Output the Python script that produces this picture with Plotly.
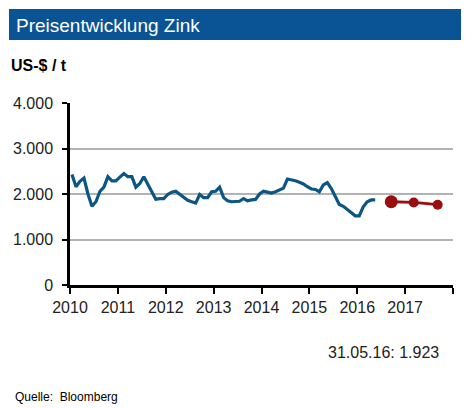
import plotly.graph_objects as go

# Monthly zinc price (US-$/t), Jan 2010 - May 2016
hist_values = [
    2430, 2160, 2280, 2350, 2000, 1730, 1830, 2060, 2150, 2380, 2290, 2290,
    2370, 2450, 2380, 2380, 2150, 2230, 2380, 2220, 2060, 1885, 1900, 1900,
    1990, 2040, 2060, 1990, 1920, 1860, 1830, 1800, 1990, 1920, 1920, 2050,
    2060, 2150, 1920, 1850, 1830, 1830, 1840, 1900, 1850, 1870, 1880, 2000,
    2060, 2040, 2020, 2050, 2090, 2130, 2330, 2315, 2290, 2260, 2220, 2160,
    2110, 2100, 2050, 2200, 2250, 2120, 1960, 1770, 1730, 1660, 1580, 1520,
    1520, 1720, 1830, 1870, 1870,
]
hist_start_year = 2010
hist_dates = [hist_start_year + (i + 0.5) / 12 for i in range(len(hist_values))]

# Forecast points
fc_dates = [2016.71, 2017.18, 2017.68]
fc_values = [1830, 1815, 1765]
fc_sizes = [13, 10, 10]

year_ticks = [2010, 2011, 2012, 2013, 2014, 2015, 2016, 2017, 2018]
year_labels = ["2010", "2011", "2012", "2013", "2014", "2015", "2016", "2017", ""]
y_ticks = [0, 1000, 2000, 3000, 4000]
y_labels = ["0", "1.000", "2.000", "3.000", "4.000"]

title_text = "Preisentwicklung Zink"
unit_text = "US-$ / t"
last_text = "31.05.16: 1.923"
source_text = "Quelle:  Bloomberg"

FONT = "Liberation Sans, Arial, sans-serif"

fig = go.Figure()
fig.add_trace(go.Scatter(
    x=hist_dates, y=hist_values, mode="lines",
    line=dict(color="#0b5684", width=3.2),
    hoverinfo="skip", showlegend=False,
))
fig.add_trace(go.Scatter(
    x=fc_dates, y=fc_values, mode="lines+markers",
    line=dict(color="#990f0f", width=2.8),
    marker=dict(color="#990f0f", size=fc_sizes, opacity=1, line=dict(width=0)),
    opacity=1,
    hoverinfo="skip", showlegend=False,
))

L, R, T, B = 70, 453, 103, 285
W, H = 473, 408
pw, ph = R - L, B - T


def px(x):
    return (x - L) / pw


def py(y):
    return (B - y) / ph


fig.update_layout(
    width=W, height=H,
    margin=dict(l=L, r=W - R, t=T, b=H - B, pad=0),
    paper_bgcolor="white", plot_bgcolor="white",
    font=dict(family=FONT, color="#222222", size=16),
    xaxis=dict(
        range=[2010, 2018], tickmode="array", tickvals=year_ticks, ticktext=year_labels,
        showgrid=False, zeroline=False,
        showline=True, linecolor="black", linewidth=2.5,
        ticks="outside", ticklen=6, tickwidth=2, tickcolor="black",
        tickfont=dict(size=16, color="#222222"),
    ),
    yaxis=dict(
        range=[0, 4000], tickmode="array", tickvals=y_ticks, ticktext=y_labels,
        showgrid=True, gridcolor="#b3b3b3", gridwidth=1.6, zeroline=False,
        showline=True, linecolor="black", linewidth=2.5,
        ticks="outside", ticklen=5, tickwidth=2, tickcolor="black",
        tickfont=dict(size=16, color="#222222"),
        ticklabelstandoff=6,
    ),
    shapes=[dict(
        type="rect", xref="paper", yref="paper",
        x0=px(9), x1=px(461), y0=py(40), y1=py(9),
        fillcolor="#0a5496", line=dict(width=0), layer="above",
    )],
    annotations=[
        dict(text=title_text, xref="paper", yref="paper", x=px(14), y=py(25),
             xanchor="left", yanchor="middle", showarrow=False,
             font=dict(size=19, color="white", family=FONT)),
        dict(text="<b>" + unit_text + "</b>", xref="paper", yref="paper", x=px(9), y=py(65),
             xanchor="left", yanchor="middle", showarrow=False,
             font=dict(size=16, color="black", family=FONT)),
        dict(text=last_text, xref="paper", yref="paper", x=px(441), y=py(352),
             xanchor="right", yanchor="middle", showarrow=False,
             font=dict(size=16, color="#222222", family=FONT)),
        dict(text=source_text, xref="paper", yref="paper", x=px(13), y=py(397),
             xanchor="left", yanchor="middle", showarrow=False,
             font=dict(size=12, color="black", family=FONT)),
    ],
)

fig.write_html(
    "out.html",
    config={"displayModeBar": False},
    post_script="document.body.style.margin='0';document.body.style.padding='0';",
)
